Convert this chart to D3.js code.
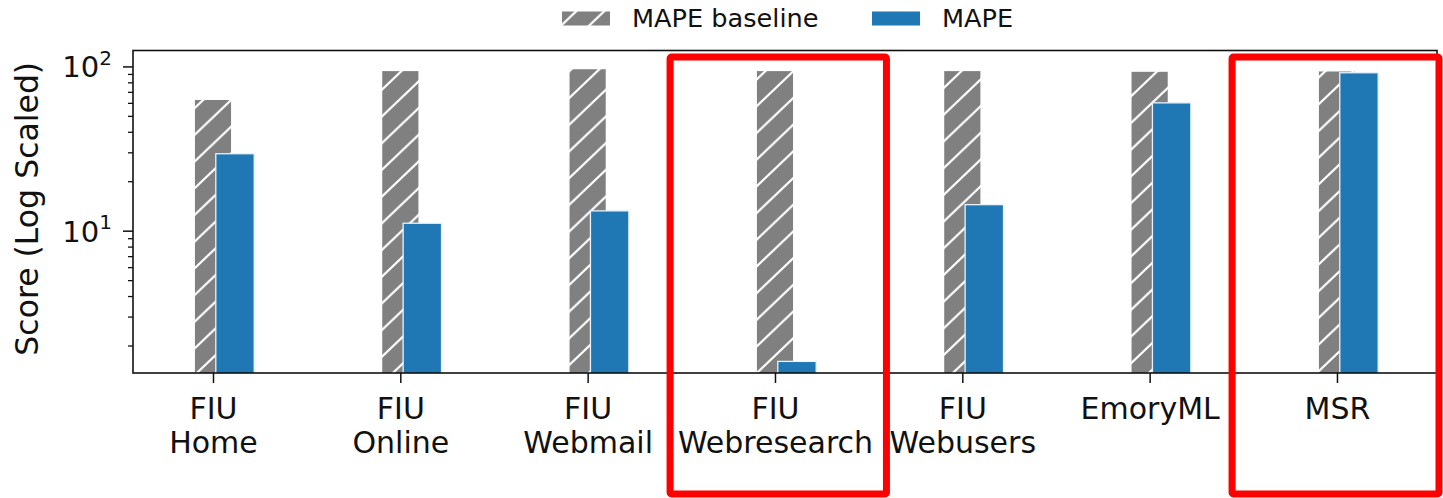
<!DOCTYPE html>
<html>
<head>
<meta charset="utf-8">
<script src="https://cdn.jsdelivr.net/npm/d3@7"></script>
<style>
  body { margin: 0; background: #fff; }
  svg { display: block; font-family: "DejaVu Sans", sans-serif; }
</style>
</head>
<body>
<svg id="chart" width="1443" height="498"></svg>
<script>
// Workload categories (two-line labels use "\n")
const categories = ["FIU\nHome", "FIU\nOnline", "FIU\nWebmail", "FIU\nWebresearch", "FIU\nWebusers", "EmoryML", "MSR"];
// MAPE of the baseline predictor and of our model, per workload
const mapeBaseline = [63, 94.5, 97, 94.5, 94.5, 93.6, 94];
const mape = [29.4, 11.1, 13.2, 1.6, 14.4, 60, 91.5];
const seriesNames = ["MAPE baseline", "MAPE"];
// Log-axis ticks
const majorTicks = [10, 100];
const minorTicks = [2, 3, 4, 5, 6, 7, 8, 9, 20, 30, 40, 50, 60, 70, 80, 90];
// Workloads called out with a red box
const highlighted = ["FIU\nWebresearch", "MSR"];

const W = 1443, H = 498;
const plot = { left: 133, right: 1437, top: 50.5, bottom: 373 };
const GREY = "#808080", BLUE = "#1f77b4", TEXT = "#111";

const svg = d3.select("#chart");
const defs = svg.append("defs");

// Diagonal "//" hatch on grey
const hatch = defs.append("pattern")
  .attr("id", "hatch")
  .attr("patternUnits", "userSpaceOnUse")
  .attr("width", 28).attr("height", 26.7)
  .attr("x", 0).attr("y", 0);
hatch.append("rect").attr("width", 28).attr("height", 26.7).attr("fill", GREY);
hatch.append("path")
  .attr("d", "M-28,26.7 L28,-26.7 M0,26.7 L28,0 M0,53.4 L56,0")
  .attr("stroke", "#fff").attr("stroke-width", 2.2);

defs.append("clipPath").attr("id", "plotclip")
  .append("rect")
  .attr("x", plot.left).attr("y", plot.top)
  .attr("width", plot.right - plot.left).attr("height", plot.bottom - plot.top);

const x = d3.scaleLinear().domain([-0.427, 6.534]).range([plot.left, plot.right]);
const y = d3.scaleLog().domain([1.36, 125]).range([plot.bottom, plot.top]);

// Bars
const bars = svg.append("g").attr("clip-path", "url(#plotclip)");
const rows = categories.map((c, i) => ({ c, i, base: mapeBaseline[i], val: mape[i] }));

bars.selectAll("rect.base").data(rows).join("rect")
  .attr("class", "base")
  .attr("x", d => x(d.i - 0.1))
  .attr("width", d => x(d.i + 0.1) - x(d.i - 0.1))
  .attr("y", d => y(d.base))
  .attr("height", d => plot.bottom + 5 - y(d.base))
  .attr("fill", "url(#hatch)")
  .attr("stroke", "#fff").attr("stroke-width", 1.3);

bars.selectAll("rect.val").data(rows).join("rect")
  .attr("class", "val")
  .attr("x", d => x(d.i + 0.015))
  .attr("width", d => x(d.i + 0.22) - x(d.i + 0.015))
  .attr("y", d => y(d.val))
  .attr("height", d => plot.bottom + 5 - y(d.val))
  .attr("fill", BLUE)
  .attr("stroke", "#e8f2fb").attr("stroke-width", 1.3);

// Y axis: minor ticks
svg.append("g")
  .attr("transform", `translate(${plot.left},0)`)
  .call(d3.axisLeft(y).tickValues(minorTicks).tickSize(5).tickFormat(""))
  .call(g => g.select(".domain").remove())
  .call(g => g.selectAll("line").attr("stroke", TEXT).attr("stroke-width", 1.3));

// Y axis: major ticks with 10^n labels
const yMajor = svg.append("g")
  .attr("transform", `translate(${plot.left},0)`)
  .call(d3.axisLeft(y).tickValues(majorTicks).tickSize(10).tickPadding(11).tickFormat(""))
  .call(g => g.select(".domain").remove())
  .call(g => g.selectAll("line").attr("stroke", TEXT).attr("stroke-width", 1.5));
yMajor.selectAll(".tick text").each(function(d) {
  const t = d3.select(this)
    .attr("fill", TEXT).attr("font-size", 29).attr("font-family", "DejaVu Sans")
    .attr("dy", "0.36em");
  t.append("tspan").text("10");
  t.append("tspan").attr("font-size", 20).attr("dy", "-0.62em").text(Math.round(Math.log10(d)));
});

// X axis with two-line category labels
const xAxis = svg.append("g")
  .attr("transform", `translate(0,${plot.bottom})`)
  .call(d3.axisBottom(x).tickValues(d3.range(categories.length)).tickSize(10).tickFormat(""))
  .call(g => g.select(".domain").remove())
  .call(g => g.selectAll("line").attr("stroke", TEXT).attr("stroke-width", 1.5));
xAxis.selectAll(".tick text").each(function(i) {
  const t = d3.select(this)
    .attr("fill", TEXT).attr("font-size", 30).attr("font-family", "DejaVu Sans")
    .attr("y", 45.7).attr("dy", null);
  categories[i].split("\n").forEach((line, k) => {
    t.append("tspan").attr("x", 0).attr("y", 45.7 + k * 34).text(line);
  });
});

// Axes frame
svg.append("rect")
  .attr("x", plot.left).attr("y", plot.top)
  .attr("width", plot.right - plot.left).attr("height", plot.bottom - plot.top)
  .attr("fill", "none").attr("stroke", TEXT).attr("stroke-width", 1.6);

// Y label
svg.append("text")
  .attr("transform", `translate(37.5,${(plot.top + plot.bottom) / 2 - 3}) rotate(-90)`)
  .attr("text-anchor", "middle")
  .attr("font-size", 31.5).attr("fill", TEXT)
  .text("Score (Log Scaled)");

// Legend above the axes
const legendItems = [
  { name: seriesNames[0], fill: "url(#hatch)", x: 562 },
  { name: seriesNames[1], fill: BLUE, x: 872 }
];
const lg = svg.append("g");
legendItems.forEach(it => {
  lg.append("rect").attr("x", it.x).attr("y", 11.5).attr("width", 48).attr("height", 14)
    .attr("fill", it.fill);
  lg.append("text").attr("x", it.x + 70).attr("y", 26.5)
    .attr("font-size", 25.6).attr("fill", TEXT).text(it.name);
});

// Red call-out boxes around highlighted workloads
svg.append("g").selectAll("rect").data(highlighted).join("rect")
  .attr("x", d => x(categories.indexOf(d) - 0.56))
  .attr("y", 57)
  .attr("width", d => Math.min(x(categories.indexOf(d) + 0.595), W - 4) - x(categories.indexOf(d) - 0.56))
  .attr("height", 494 - 57)
  .attr("fill", "none")
  .attr("stroke", "#ff0000").attr("stroke-width", 7).attr("rx", 1.5);
</script>
</body>
</html>
